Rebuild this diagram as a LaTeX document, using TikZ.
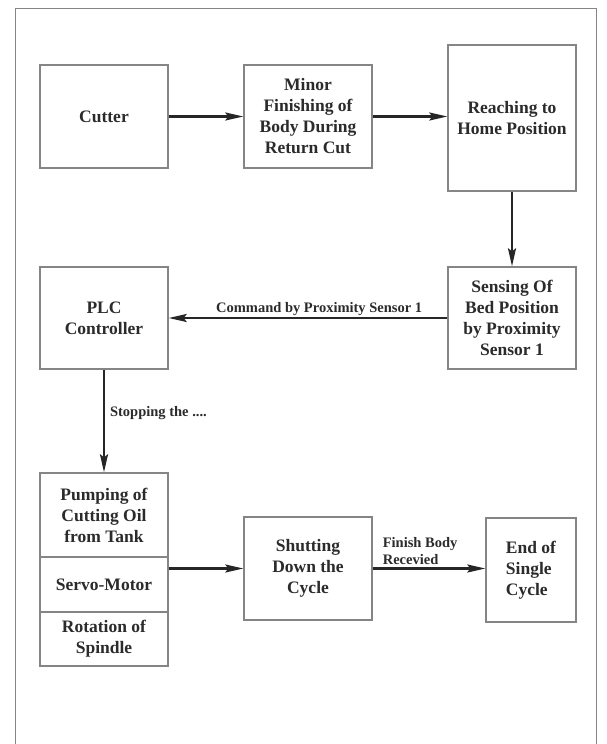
\documentclass[tikz,border=0pt]{standalone}
\usepackage{fontspec}
\setmainfont{Liberation Serif}
\usetikzlibrary{arrows.meta}
\definecolor{boxline}{HTML}{858585}
\definecolor{txt}{HTML}{2B2B2B}
\begin{document}
\begin{tikzpicture}[x=1pt,y=-1pt,
  blk/.style={draw=boxline, line width=1.4pt, text=txt, font=\bfseries\fontsize{17.5}{21}\selectfont, align=center, inner sep=2pt, minimum width=128pt},
  arr/.style={draw=black!85, line width=2.2pt, -{Stealth[length=18pt,width=8pt,inset=3pt]}},
  lbl/.style={text=txt, font=\bfseries\fontsize{14.5}{17}\selectfont, inner sep=1pt}]
\useasboundingbox (0,0) rectangle (607,744);
\fill[white] (0,0) rectangle (607,744);
\draw[boxline, line width=1pt] (15,744) -- (15,8) -- (596,8) -- (596,744);
\node[blk, minimum height=103pt] (cutter) at (104,116.5) {Cutter};
\node[blk, minimum height=103pt] (minor) at (308,116.5) {Minor\\Finishing of\\Body During\\Return Cut};
\node[blk, minimum height=146pt] (reach) at (512,118) {Reaching to\\Home Position};
\node[blk, minimum height=102pt] (sense) at (512,318) {Sensing Of\\Bed Position\\by Proximity\\Sensor 1};
\node[blk, minimum height=102pt] (plc) at (104,318) {PLC\\Controller};
\node[blk, minimum height=84pt] (pump) at (104,515) {Pumping of\\Cutting Oil\\from Tank};
\node[blk, minimum height=55pt] (servo) at (104,584.5) {Servo-Motor};
\node[blk, minimum height=54pt] (rot) at (104,639) {Rotation of\\Spindle};
\node[blk, minimum height=103pt] (shut) at (308,568.5) {Shutting\\Down the\\Cycle};
\node[blk, minimum height=104pt, minimum width=90pt, align=left] (endc) at (531,570) {End of\\Single\\Cycle};
\draw[arr] (cutter.east) -- (minor.west);
\draw[arr] (minor.east) -- (minor.east -| reach.west);
\draw[arr] (reach.south) -- (sense.north);
\draw[arr] (sense.west) -- node[lbl, above, pos=0.46] (cmd) {Command by Proximity Sensor 1} (plc.east);
\draw[arr] (plc.south) -- node[lbl, right, pos=0.42, xshift=4pt] (stop) {Stopping the ....} (pump.north);
\draw[arr] (shut.west -| servo.east) -- (shut.west);
\draw[arr] (shut.east) -- node[lbl, anchor=south west, pos=0, xshift=8pt, yshift=2pt, align=left] (fin) {Finish Body\\Recevied} (shut.east -| endc.west);
\end{tikzpicture}
\end{document}
